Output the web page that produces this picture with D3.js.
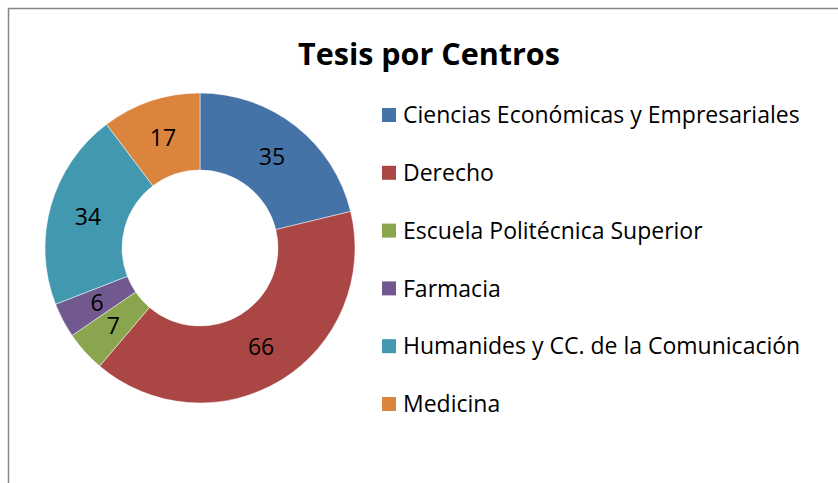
<!DOCTYPE html>
<html>
<head>
<meta charset="utf-8">
<script src="https://cdn.jsdelivr.net/npm/d3@7"></script>
<style>
  body { margin: 0; background: #fff; }
  text { font-family: "Open Sans", "Liberation Sans", sans-serif; fill: #000; }
</style>
</head>
<body>
<div class="chart"></div>
<script>
var svgWidth = 838;
var svgHeight = 483;

// data
var centros = [
  "Ciencias Económicas y Empresariales",
  "Derecho",
  "Escuela Politécnica Superior",
  "Farmacia",
  "Humanides y CC. de la Comunicación",
  "Medicina"
];
var tesis = [35, 66, 7, 6, 34, 17];
var colores = ["#4572A7", "#AA4643", "#89A54E", "#71588F", "#4198AF", "#DB843D"];

var svg = d3.select(".chart")
  .append("svg")
  .attr("width", svgWidth)
  .attr("height", svgHeight);

// chart frame
svg.append("rect")
  .attr("x", 8.5)
  .attr("y", 8.5)
  .attr("width", 840)
  .attr("height", 500)
  .attr("fill", "none")
  .attr("stroke", "#868686")
  .attr("stroke-width", 1.5);

// title
svg.append("text")
  .attr("x", 429)
  .attr("y", 65)
  .attr("text-anchor", "middle")
  .style("font-size", "30.5px")
  .style("font-weight", "bold")
  .text("Tesis por Centros");

var outerR = 155;
var innerR = 78;

var pie = d3.pie().sort(null).value(d => d);
var arc = d3.arc().innerRadius(innerR).outerRadius(outerR);

var donut = svg.append("g")
  .attr("transform", "translate(200, 248)");

var slices = donut.selectAll("g")
  .data(pie(tesis))
  .enter()
  .append("g");

slices.append("path")
  .attr("d", arc)
  .attr("fill", (d, i) => colores[i])
  .attr("stroke", "#fff")
  .attr("stroke-width", 0.5);

slices.append("text")
  .attr("transform", d => `translate(${arc.centroid(d)})`)
  .attr("text-anchor", "middle")
  .attr("dy", "0.36em")
  .style("font-size", "23px")
  .text(d => d.data);

// legend
var legendY = d3.scalePoint()
  .domain(centros)
  .range([115, 404]);

var legend = svg.append("g");

var items = legend.selectAll("g")
  .data(centros)
  .enter()
  .append("g")
  .attr("transform", d => `translate(382, ${legendY(d)})`);

items.append("rect")
  .attr("x", 0)
  .attr("y", -7)
  .attr("width", 14)
  .attr("height", 14)
  .attr("fill", (d, i) => colores[i]);

items.append("text")
  .attr("x", 21)
  .attr("dy", "0.36em")
  .style("font-size", "23px")
  .text(d => d);
</script>
</body>
</html>
